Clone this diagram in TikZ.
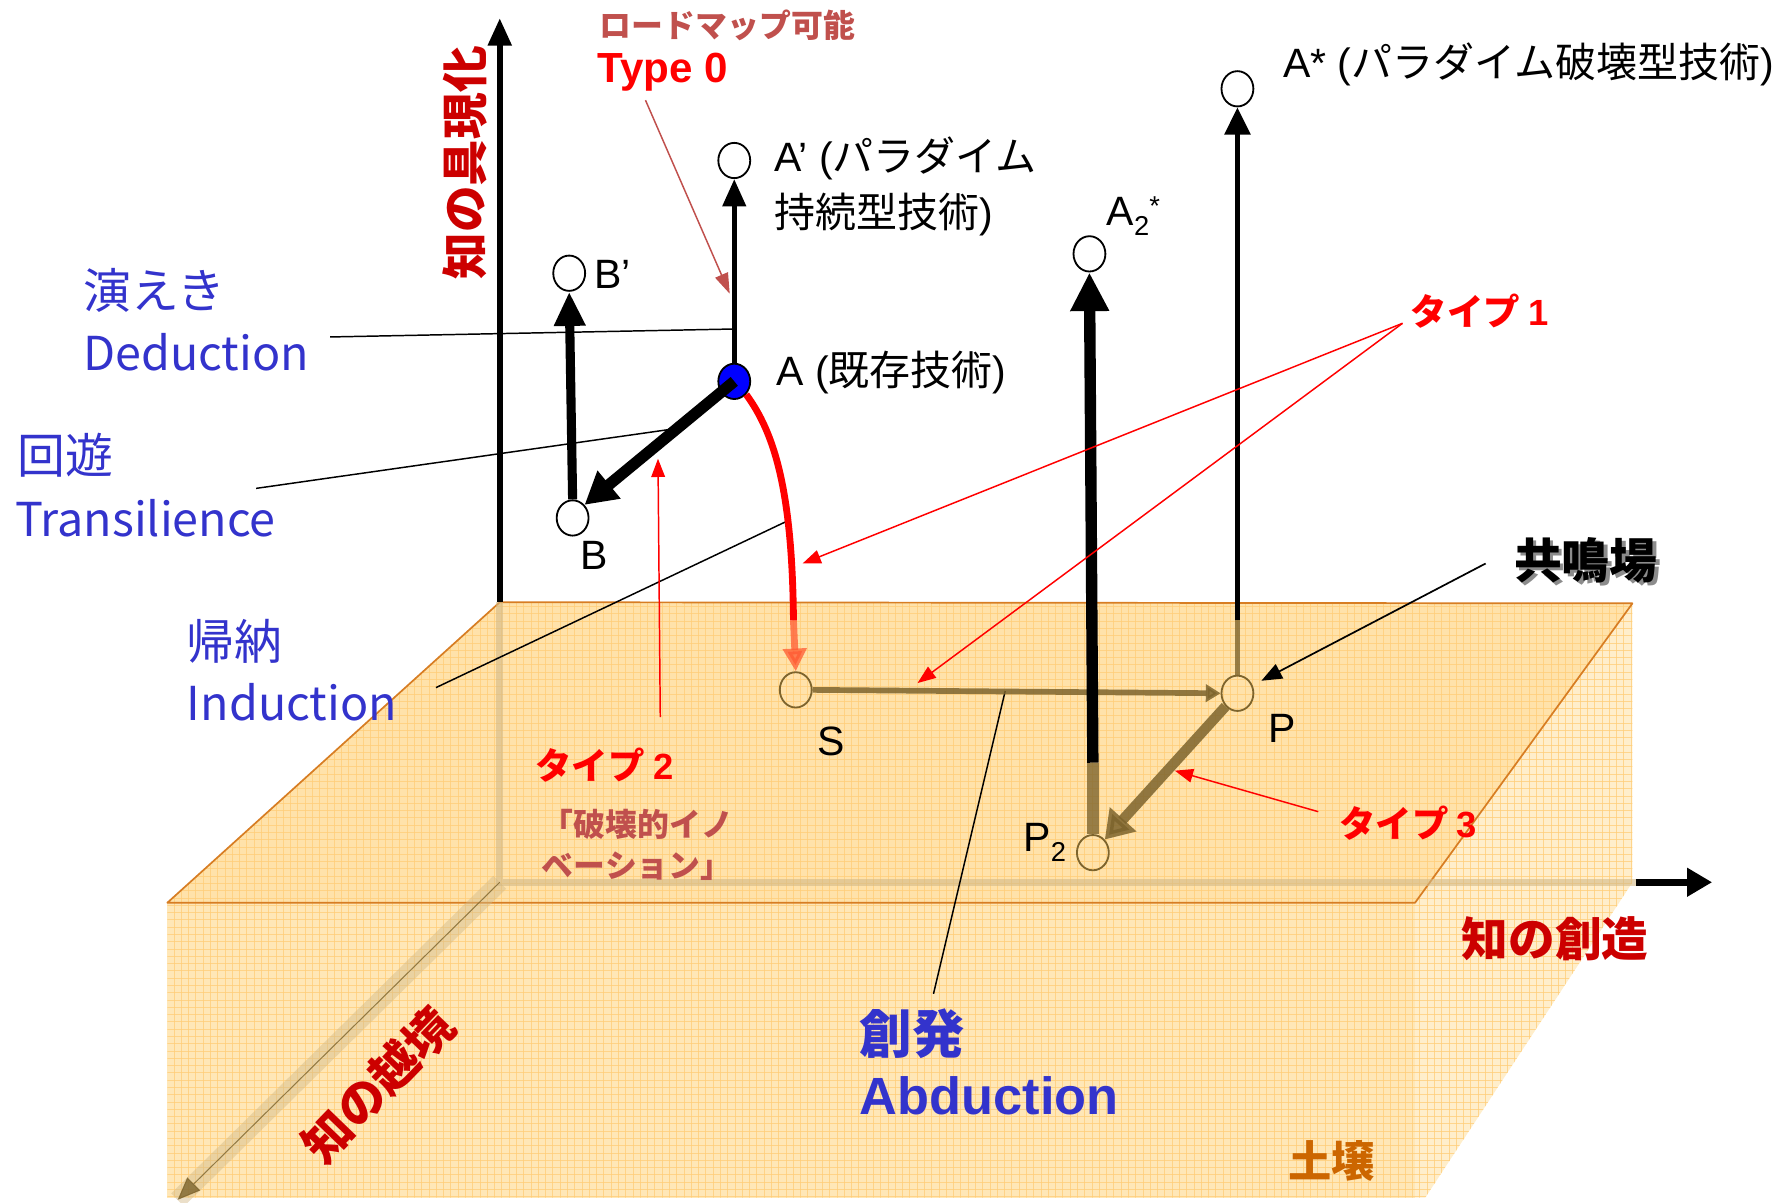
\documentclass[tikz,border=0pt]{standalone}
\usepackage{fontspec}
\setmainfont{Noto Sans CJK JP}
\newfontfamily\lat{Liberation Sans}
\usetikzlibrary{arrows.meta,shapes.geometric}
\newcommand\fsz[1]{\fontsize{#1}{#1}\selectfont}
\definecolor{lblblue}{RGB}{51,51,204}
\definecolor{dkred}{RGB}{204,0,0}
\definecolor{mred}{RGB}{192,80,77}
\definecolor{soilc}{RGB}{204,102,0}
\definecolor{topc}{RGB}{255,226,170}
\definecolor{frontc}{RGB}{255,231,183}
\definecolor{sidec}{RGB}{255,238,203}
\definecolor{gridc}{RGB}{255,205,120}
\definecolor{edgec}{RGB}{215,125,35}
\definecolor{olv}{RGB}{125,100,45}
\definecolor{bandc}{RGB}{210,185,135}
\definecolor{fadered}{RGB}{255,90,50}
\tikzset{
  pt/.style={ellipse, draw, line width=1.6pt, fill=white, minimum width=28pt, minimum height=31pt, inner sep=0pt},
  spt/.style={ellipse, draw=olv, line width=1.6pt, minimum width=28pt, minimum height=31pt, inner sep=0pt},
  txt/.style={inner sep=0pt, font=\fsz{36}},
  blu/.style={inner sep=0pt, text=lblblue, font=\fsz{42}, anchor=west},
  typ/.style={inner sep=0pt, text=red, font=\fsz{32}\bfseries},
  thinblk/.style={line width=1.3pt, black},
  rarr/.style={red, line width=1.3pt, -{Triangle[width=12pt,length=16pt]}},
  gridline/.style={gridc, line width=0.7pt, opacity=0.75},
}
\begin{document}
\begin{tikzpicture}[x=1pt,y=-1pt]
\useasboundingbox (0,0) rectangle (1568,1056);
% ---------- soil block ----------
\fill[frontc] (147,793) -- (1243,793) -- (1243,1052) -- (147,1052) -- cycle;
\fill[topc] (147,793) -- (439,529) -- (1434,530) -- (1243,793) -- cycle;
\fill[sidec] (1243,793) -- (1434,530) -- (1434,775) -- (1252,1052) -- (1243,1052) -- cycle;
\begin{scope}
\clip (147,793) -- (439,529) -- (1434,530) -- (1434,775) -- (1252,1052) -- (147,1052) -- cycle;
\draw[gridline] \foreach \i in {0,...,203}{(140+\i*6.4,520) -- ++(0,540)};
\draw[gridline] \foreach \j in {0,...,84}{(140,520+\j*6.4) -- ++(1300,0)};
\end{scope}
\draw[edgec, line width=1.5pt, line join=round] (147,793) -- (439,529) -- (1434,530) -- (1243,793) -- cycle;
% ---------- axes ----------
\coordinate (O) at (439,775);
\coordinate (Otop) at (439,529);
\coordinate (Yend) at (439,16);
\coordinate (Xin) at (1437,775);
\coordinate (Xend) at (1504,775);
\coordinate (Zend) at (156,1054);
\draw[bandc, line width=6pt, opacity=0.6] (Otop) -- (O) -- (Xin);
\draw[bandc, line width=16pt, opacity=0.45] (O) -- (Zend);
\draw[olv, line width=0.9pt, opacity=0.8, -{Triangle[width=16pt,length=20pt]}] (O) -- (Zend);
\draw[line width=5pt, -{Triangle[width=20pt,length=24pt]}] (Otop) -- (Yend);
\draw[line width=6pt, -{Triangle[width=24pt,length=22pt]}] (Xin) -- (Xend);
% ---------- points ----------
\node[pt] (Ap) at (645,141) {};
\node[pt] (Bp) at (500,240) {};
\node[pt] (B) at (503,455) {};
\node[pt] (As) at (1087,78) {};
\node[pt] (A2) at (957,223) {};
\node[spt] (S) at (699,606) {};
\node[spt] (P) at (1087,609) {};
\node[spt] (P2) at (960,749) {};
% ---------- label lines ----------
\coordinate (dedS) at (290,296);   \coordinate (dedE) at (645,289);
\coordinate (traS) at (225,429);   \coordinate (traE) at (590,377);
\coordinate (indS) at (383,604);   \coordinate (indE) at (693,457);
\coordinate (abdS) at (820,873);   \coordinate (abdE) at (883,607);
\draw[thinblk] (dedS) -- (dedE);
\draw[thinblk] (traS) -- (traE);
\draw[thinblk] (indS) -- (indE);
\draw[thinblk] (abdS) -- (abdE);
% ---------- in-soil paths ----------
\coordinate (A2cut) at (960,670);
\coordinate (Ascut) at (1087,545);
\coordinate (redcut) at (697,545);
\draw[olv, line width=5pt, opacity=0.85, -{Triangle[width=15pt,length=13pt]}] (S.east) -- (P.west);
\draw[olv, line width=10pt, opacity=0.8] (P2.north) -- (A2cut);
\draw[olv, line width=5pt, opacity=0.8] (P.north) -- (Ascut);
\draw[olv, line width=9pt, opacity=0.85, -{Triangle[width=30pt,length=24pt]}] (P.south west) -- (P2.north east);
\draw[fadered, line width=6pt, opacity=0.75, -{Triangle[width=20pt,length=20pt]}] (redcut) -- (S.north);
% ---------- above-ground arrows ----------
\node[pt, fill=blue] (A) at (645,335) {};
\draw[line width=10pt, -{Triangle[width=32pt,length=34pt]}] (A2cut) -- (A2.south);
\draw[line width=5pt, -{Triangle[width=22pt,length=24pt]}] (Ascut) -- (As.south);
\draw[line width=4.5pt, -{Triangle[width=20pt,length=24pt]}] (A.north) -- (Ap.south);
\draw[line width=8pt, -{Triangle[width=26pt,length=30pt]}] (B.north) -- (Bp.south);
\draw[red, line width=6pt] (A.south east) .. controls (680,380) and (696,430) .. (redcut);
\draw[line width=10pt, -{Triangle[width=30pt,length=28pt]}] (A.center) -- (B.north east);
% ---------- texts ----------
\node[rotate=90, inner sep=0pt, text=dkred, font=\fsz{41}\bfseries] (ky) at (408,143) {知の具現化};
\node[inner sep=0pt, text=dkred, font=\fsz{41}\bfseries] (kc) at (1366,825) {知の創造};
\node[rotate=46, inner sep=0pt, text=dkred, font=\fsz{42}\bfseries] (kx) at (332,953) {知の越境};
\node[inner sep=0pt, text=soilc, font=\fsz{38}\bfseries] (soil) at (1170,1020) {土壌};
\node[inner sep=0pt, text=mred, font=\fsz{28}\bfseries] (rm) at (639,22) {ロードマップ可能};
\node[inner sep=0pt, text=red, font=\fsz{37}\bfseries\lat] (t0) at (582,63) {Type 0};
\node[txt, anchor=west, align=left, text depth=0pt] (Apl) at (680,160) {{\lat A’ (}パラダイム\\[10pt]持続型技術{\lat )}};
\node[txt, anchor=west] (Bpl) at (522,241) {\lat B’};
\node[txt, anchor=west] (Al) at (682,327) {{\lat A (}既存技術{\lat )}};
\node[txt] (Bl) at (522,488) {\lat B};
\node[txt, anchor=west] (Asl) at (1127,57) {{\lat A* (}パラダイム破壊型技術{\lat )}};
\node[txt, anchor=west, font=\fsz{36}\lat] (A2l) at (972,190) {A\raisebox{-9pt}{\fsz{24}2}\raisebox{9pt}{\fsz{24}*}};
\node[txt] (Sl) at (730,651) {\lat S};
\node[txt] (Pl) at (1126,640) {\lat P};
\node[txt, anchor=west, font=\fsz{36}\lat] (P2l) at (899,740) {P\raisebox{-9pt}{\fsz{24}2}};
\node[inner sep=0pt, text=black!45, font=\fsz{42}\bfseries] (kmsh) at (1396,495) {共鳴場};
\node[inner sep=0pt, font=\fsz{42}\bfseries] (km) at (1393,492) {共鳴場};
\node[typ] (T1) at (1300,273) {タイプ {\lat 1}};
\node[typ] (T2) at (531,672) {タイプ {\lat 2}};
\node[typ] (T3) at (1237,723) {タイプ {\lat 3}};
\node[inner sep=0pt, text=mred, font=\fsz{28}\bfseries, align=left] (hk) at (560,742) {「破壊的イノ\\[8pt]ベーション」};
\node[blu] (ded1) at (73,255) {演えき};
\node[blu, font=\fsz{41}] (ded2) at (73,309) {Deduction};
\node[blu] (tra1) at (15,400) {回遊};
\node[blu, font=\fsz{41}] (tra2) at (13,455) {Transilience};
\node[blu] (ind1) at (164,563) {帰納};
\node[blu, font=\fsz{41}] (ind2) at (164,617) {Induction};
\node[blu, font=\fsz{46}\bfseries] (abd1) at (755,908) {創発};
\node[blu, font=\fsz{46}\bfseries\lat] (abd2) at (755,963) {Abduction};
% ---------- annotation arrows ----------
\coordinate (t0s) at (567,88);   \coordinate (t0e) at (641,258);
\coordinate (t1s) at (1232,284); \coordinate (t1a) at (705,495); \coordinate (t1b) at (806,600);
\coordinate (t2s) at (580,630);  \coordinate (t2e) at (578,403);
\coordinate (t3s) at (1158,713); \coordinate (t3e) at (1032,677);
\coordinate (kms) at (1305,495); \coordinate (kme) at (1108,598);
\draw[mred, line width=1.3pt, -{Triangle[width=12pt,length=18pt]}] (t0s) -- (t0e);
\draw[rarr] (t1s) -- (t1a);
\draw[rarr] (t1s) -- (t1b);
\draw[rarr] (t2s) -- (t2e);
\draw[rarr] (t3s) -- (t3e);
\draw[line width=1.5pt, -{Triangle[width=14pt,length=18pt]}] (kms) -- (kme);
\end{tikzpicture}
\end{document}
